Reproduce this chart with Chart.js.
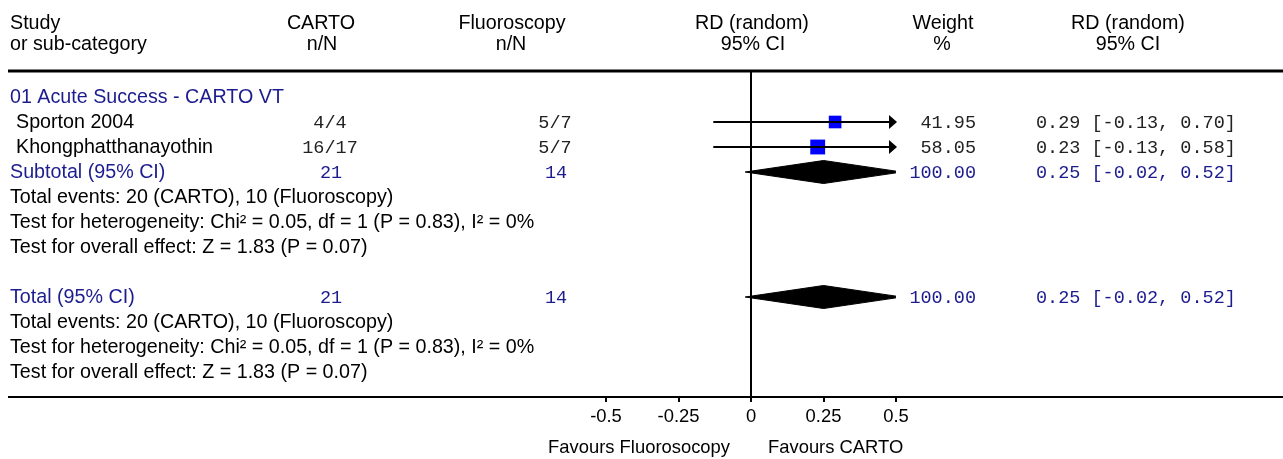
<!DOCTYPE html>
<html>
<head>
<meta charset="utf-8">
<script src="https://cdn.jsdelivr.net/npm/chart.js@4/dist/chart.umd.min.js"></script>
<style>
  html, body { margin: 0; padding: 0; background: #fff; }
  canvas { display: block; }
</style>
</head>
<body>
<canvas id="forestChart" width="1283" height="459"></canvas>
<script>
const groupTitle = "01 Acute Success - CARTO VT";
const studies = ["Sporton 2004", "Khongphatthanayothin"];
const cartoEvents = [4, 16];
const cartoTotal = [4, 17];
const fluoroEvents = [5, 5];
const fluoroTotal = [7, 7];
const rd = [0.29, 0.23];
const ciLow = [-0.13, -0.13];
const ciHigh = [0.70, 0.58];
const weights = [41.95, 58.05];

const pooledLabels = ["Subtotal (95% CI)", "Total (95% CI)"];
const pooledCarto = [21, 21];
const pooledFluoro = [14, 14];
const pooledRd = [0.25, 0.25];
const pooledLow = [-0.02, -0.02];
const pooledHigh = [0.52, 0.52];
const pooledWeight = [100, 100];

const summaryNotes = [
    "Total events: 20 (CARTO), 10 (Fluoroscopy)",
    "Test for heterogeneity: Chi\u00B2 = 0.05, df = 1 (P = 0.83), I\u00B2 = 0%",
    "Test for overall effect: Z = 1.83 (P = 0.07)"
];
const xTicks = [-0.5, -0.25, 0, 0.25, 0.5];
const favourLabels = ["Favours Fluorosocopy", "Favours CARTO"];

// row numbers on the y scale
const studyRows = [1, 2];
const pooledRows = [3, 8];
const noteRows = [[4, 5, 6], [9, 10, 11]];

const SANS = "'Liberation Sans', Arial, sans-serif";
const MONO = "'Liberation Mono', 'Courier New', monospace";
const SANS_SIZE = 19.7;
const AXIS_SIZE = 18.4;
const BLUE = "#1c1c8f";
const DIAMOND_H = 0.46;

function fmt(v) { return v.toFixed(2); }
function ciText(est, lo, hi) { return `${fmt(est)} [${fmt(lo)}, ${fmt(hi)}]`; }

const datasets = [];

// CI lines for each study
studies.forEach((s, i) => {
    datasets.push({
        type: "line",
        data: [{ x: ciLow[i], y: studyRows[i] }, { x: ciHigh[i], y: studyRows[i] }],
        borderColor: "#000",
        borderWidth: 2,
        pointRadius: 0,
        showLine: true
    });
});

// weighted squares
datasets.push({
    data: rd.map((v, i) => ({ x: v, y: studyRows[i] })),
    pointStyle: "rect",
    pointRadius: weights.map(w => 1.95 * Math.sqrt(w) / Math.SQRT2),
    backgroundColor: "#0000ff",
    borderColor: "#0000ff",
    borderWidth: 0
});

// pooled diamonds
pooledRd.forEach((v, i) => {
    const r = pooledRows[i];
    datasets.push({
        type: "line",
        data: [
            { x: pooledLow[i], y: r },
            { x: v, y: r - DIAMOND_H },
            { x: pooledHigh[i], y: r },
            { x: v, y: r + DIAMOND_H },
            { x: pooledLow[i], y: r }
        ],
        showLine: true,
        fill: "shape",
        tension: 0,
        borderColor: "#000",
        backgroundColor: "#000",
        borderWidth: 1,
        pointRadius: 0
    });
});

const tablePlugin = {
    id: "forestTable",
    afterDatasetsDraw(chart) {
        const ctx = chart.ctx;
        const xs = chart.scales.x;
        const ys = chart.scales.y;

        // arrows where a CI runs past the axis
        ctx.save();
        ctx.fillStyle = "#000";
        studies.forEach((s, i) => {
            const y = ys.getPixelForValue(studyRows[i]);
            if (ciHigh[i] > xs.max) {
                const x = xs.getPixelForValue(xs.max) + 1;
                ctx.beginPath();
                ctx.moveTo(x, y);
                ctx.lineTo(x - 8, y - 7);
                ctx.lineTo(x - 8, y + 7);
                ctx.closePath();
                ctx.fill();
            }
            if (ciLow[i] < xs.min) {
                const x = xs.getPixelForValue(xs.min) - 1;
                ctx.beginPath();
                ctx.moveTo(x, y);
                ctx.lineTo(x + 8, y - 7);
                ctx.lineTo(x + 8, y + 7);
                ctx.closePath();
                ctx.fill();
            }
        });
        ctx.restore();
    },
    afterDraw(chart) {
        const ctx = chart.ctx;
        const ys = chart.scales.y;
        const area = chart.chartArea;
        const rowY = r => ys.getPixelForValue(r) + 1;
        const sans = `${SANS_SIZE}px ${SANS}`;
        const mono = `18.5px ${MONO}`;

        ctx.save();
        ctx.textBaseline = "middle";

        // header
        ctx.fillStyle = "#000";
        ctx.font = sans;
        ctx.textAlign = "left";
        ctx.fillText("Study", 10, 24);
        ctx.fillText("or sub-category", 10, 45);
        ctx.textAlign = "center";
        ctx.fillText("CARTO", 321, 24);
        ctx.fillText("n/N", 322, 45);
        ctx.fillText("Fluoroscopy", 512, 24);
        ctx.fillText("n/N", 511, 45);
        ctx.fillText("RD (random)", 752, 24);
        ctx.fillText("95% CI", 753, 45);
        ctx.fillText("Weight", 943, 24);
        ctx.fillText("%", 942, 45);
        ctx.fillText("RD (random)", 1128, 24);
        ctx.fillText("95% CI", 1128, 45);

        // rules
        ctx.strokeStyle = "#000";
        ctx.lineWidth = 3;
        ctx.beginPath();
        ctx.moveTo(8, area.top);
        ctx.lineTo(1283, area.top);
        ctx.stroke();
        ctx.lineWidth = 2;
        ctx.beginPath();
        ctx.moveTo(8, area.bottom + 1);
        ctx.lineTo(1283, area.bottom + 1);
        ctx.stroke();

        // group title
        ctx.textAlign = "left";
        ctx.fillStyle = BLUE;
        ctx.fillText(groupTitle, 10, rowY(0));

        // studies
        studies.forEach((s, i) => {
            const y = rowY(studyRows[i]);
            ctx.font = sans;
            ctx.fillStyle = "#000";
            ctx.textAlign = "left";
            ctx.fillText(s, 16, y);
            ctx.font = mono;
            ctx.fillStyle = "#222";
            ctx.textAlign = "center";
            ctx.fillText(`${cartoEvents[i]}/${cartoTotal[i]}`, 330, y);
            ctx.fillText(`${fluoroEvents[i]}/${fluoroTotal[i]}`, 555, y);
            ctx.textAlign = "right";
            ctx.fillText(fmt(weights[i]), 976, y);
            ctx.textAlign = "left";
            ctx.fillText(ciText(rd[i], ciLow[i], ciHigh[i]), 1036, y);
        });

        // pooled rows + notes
        pooledLabels.forEach((lab, i) => {
            const y = rowY(pooledRows[i]);
            ctx.font = sans;
            ctx.fillStyle = BLUE;
            ctx.textAlign = "left";
            ctx.fillText(lab, 10, y);
            ctx.font = mono;
            ctx.textAlign = "center";
            ctx.fillText(String(pooledCarto[i]), 331, y);
            ctx.fillText(String(pooledFluoro[i]), 556, y);
            ctx.textAlign = "right";
            ctx.fillText(fmt(pooledWeight[i]), 976, y);
            ctx.textAlign = "left";
            ctx.fillText(ciText(pooledRd[i], pooledLow[i], pooledHigh[i]), 1036, y);

            ctx.font = sans;
            ctx.fillStyle = "#000";
            noteRows[i].forEach((r, k) => {
                ctx.fillText(summaryNotes[k], 10, rowY(r));
            });
        });

        // favours labels
        const zx = chart.scales.x.getPixelForValue(0);
        ctx.font = `${AXIS_SIZE}px ${SANS}`;
        ctx.fillStyle = "#000";
        ctx.textAlign = "right";
        ctx.fillText(favourLabels[0], zx - 21, 448);
        ctx.textAlign = "left";
        ctx.fillText(favourLabels[1], zx + 17, 448);
        ctx.restore();
    }
};

new Chart(document.getElementById("forestChart"), {
    type: "scatter",
    data: { datasets: datasets },
    options: {
        responsive: false,
        animation: false,
        devicePixelRatio: 1,
        layout: { padding: { left: 606, right: 387, top: 71, bottom: 0 } },
        plugins: {
            legend: { display: false },
            tooltip: { enabled: false }
        },
        scales: {
            x: {
                type: "linear",
                min: -0.5,
                max: 0.5,
                afterBuildTicks: s => { s.ticks = xTicks.map(v => ({ value: v })); },
                afterFit: s => { s.height = 63; },
                border: { display: false },
                grid: {
                    color: c => (c.tick && c.tick.value === 0) ? "#000" : "rgba(0,0,0,0)",
                    tickColor: "#000",
                    lineWidth: 2,
                    tickLength: 6,
                    drawOnChartArea: true
                },
                ticks: {
                    color: "#000",
                    font: { family: SANS, size: AXIS_SIZE },
                    padding: 4,
                    maxRotation: 0,
                    autoSkip: false,
                    callback: v => String(v)
                }
            },
            y: {
                type: "linear",
                display: false,
                reverse: true,
                min: -1.04,
                max: 11.96
            }
        }
    },
    plugins: [tablePlugin]
});
</script>
</body>
</html>
